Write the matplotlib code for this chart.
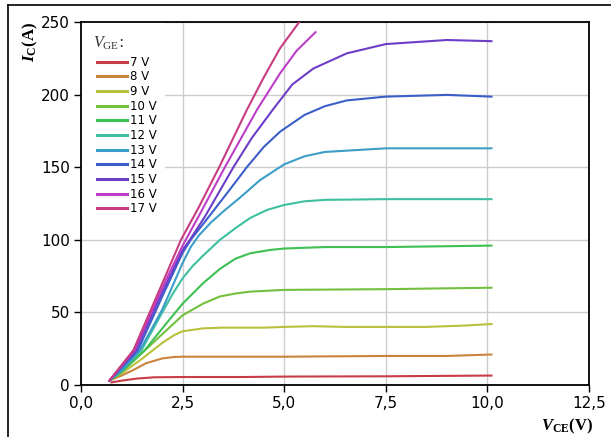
import matplotlib
matplotlib.use("Agg")
from matplotlib import pyplot as plt
from matplotlib.lines import Line2D
from matplotlib.patches import Rectangle
from matplotlib.ticker import FuncFormatter

plt.rcParams["mathtext.fontset"] = "custom"
plt.rcParams["mathtext.rm"] = "Liberation Serif"
plt.rcParams["mathtext.it"] = "Liberation Serif:italic"
plt.rcParams["mathtext.bf"] = "Liberation Serif:bold"
plt.rcParams["mathtext.bfit"] = "Liberation Serif:italic:bold"

# Output characteristics, I_C over V_CE for each gate voltage
labels = ["7 V", "8 V", "9 V", "10 V", "11 V", "12 V", "13 V", "14 V", "15 V", "16 V", "17 V"]
colors = ["#c83c46", "#c8843c", "#b8c03c", "#72c03e", "#3ec052", "#3ec0a0",
          "#3c9ec8", "#3c5ec8", "#6c3ec8", "#bc3ec8", "#c83c80"]

vce_7 = [0.75, 1.0, 1.4, 1.8, 2.5, 4.0, 5.0, 7.5, 10.1]
ic_7 = [1.8, 3.0, 4.5, 5.3, 5.5, 5.5, 5.8, 6.0, 6.5]

vce_8 = [0.7, 1.0, 1.3, 1.6, 2.0, 2.3, 2.5, 5.0, 7.5, 9.0, 10.1]
ic_8 = [3, 6.5, 10.5, 15, 18.3, 19.3, 19.5, 19.5, 20, 20, 21]

vce_9 = [0.7, 1.0, 1.5, 1.7, 2.0, 2.3, 2.5, 3.0, 3.5, 4.5, 5.0, 5.7, 6.5, 7.5, 8.5, 9.5, 10.1]
ic_9 = [3, 8, 18, 22.5, 29, 34.5, 37, 39, 39.5, 39.5, 40, 40.5, 40, 40, 40, 41, 42]

vce_10 = [0.7, 1.0, 1.5, 2.0, 2.5, 3.0, 3.42, 3.8, 4.16, 5.0, 7.5, 10.1]
ic_10 = [3, 9, 22, 35, 48, 56, 61, 63, 64.3, 65.5, 66, 67]

vce_11 = [0.7, 1.0, 1.57, 2.0, 2.5, 3.0, 3.42, 3.8, 4.16, 4.65, 5.0, 6.0, 7.5, 10.1]
ic_11 = [3, 9, 24, 39, 56, 70, 80, 87, 90.7, 93, 94, 95, 95, 96]

vce_12 = [0.7, 1.0, 1.49, 2.0, 2.25, 2.5, 2.75, 3.0, 3.42, 3.8, 4.16, 4.57, 5.0, 5.5, 6.0, 7.5, 10.1]
ic_12 = [3, 10, 24, 50, 62.5, 73.5, 82, 89, 100, 108, 115, 120.5, 124, 126.5, 127.5, 128, 128]

vce_13 = [0.7, 1.0, 1.45, 2.0, 2.5, 2.7, 2.9, 3.2, 3.5, 3.91, 4.4, 5.0, 5.5, 6.0, 7.5, 10.1]
ic_13 = [3, 10, 24, 52, 84, 95, 103, 112, 119.5, 129, 141, 152, 157.5, 160.5, 163, 163]

vce_14 = [0.7, 1.0, 1.4, 2.0, 2.5, 2.7, 3.26, 3.7, 4.08, 4.5, 4.9, 5.5, 6.0, 6.54, 7.5, 9.0, 10.1]
ic_14 = [3, 12, 24, 61, 91, 100, 120, 136, 150, 164, 174.5, 186, 192, 196, 198.6, 199.8, 198.6]

vce_15 = [0.7, 1.0, 1.35, 2.0, 2.5, 2.68, 3.05, 3.4, 3.75, 4.2, 4.73, 5.2, 5.72, 6.54, 7.5, 9.0, 10.1]
ic_15 = [3, 13, 24, 64, 93, 100, 116, 133, 150, 170, 190, 207, 218, 228.4, 234.8, 237.6, 236.8]

vce_16 = [0.7, 1.0, 1.32, 2.0, 2.5, 2.93, 3.54, 4.34, 4.9, 5.3, 5.77]
ic_16 = [3, 13.5, 24, 67, 96, 118, 150, 190, 214.7, 230, 243]

vce_17 = [0.7, 1.0, 1.29, 2.0, 2.46, 2.89, 3.4, 4.08, 4.5, 4.9, 5.45]
ic_17 = [3, 13.7, 24, 70, 100, 122, 150, 189.4, 212, 232, 253]

vce = [vce_7, vce_8, vce_9, vce_10, vce_11, vce_12, vce_13, vce_14, vce_15, vce_16, vce_17]
ic = [ic_7, ic_8, ic_9, ic_10, ic_11, ic_12, ic_13, ic_14, ic_15, ic_16, ic_17]

x_ticks = [0, 2.5, 5.0, 7.5, 10.0, 12.5]
y_ticks = [0, 50, 100, 150, 200, 250]

fig = plt.figure(figsize=(6.11, 4.37), dpi=100)
ax = fig.add_axes([81 / 611, 1 - 385 / 437, 508 / 611, 363 / 437])

for xs, ys, c in zip(vce, ic, colors):
    ax.plot(xs, ys, color=c, lw=1.5, solid_joinstyle="round", zorder=3)

ax.set_xlim(0, 12.5)
ax.set_ylim(0, 250)
ax.set_xticks(x_ticks)
ax.set_yticks(y_ticks)
ax.xaxis.set_major_formatter(FuncFormatter(lambda v, p: f"{v:.1f}".replace(".", ",")))
ax.grid(True, color="#cccccc", lw=1)
ax.set_axisbelow(True)
ax.tick_params(direction="out", length=5, width=1, labelsize=11, colors="black", pad=3)
for s in ax.spines.values():
    s.set_linewidth(1.3)
    s.set_color("black")

# white legend panel hides the grid behind it
ax.add_patch(Rectangle((0, 0.468), 0.165, 0.532, transform=ax.transAxes,
                       facecolor="white", edgecolor="none", zorder=1.5))
ax.text(0.0236, 0.942, r"$\mathit{V}_\mathrm{GE}$:", transform=ax.transAxes,
        ha="left", va="center", fontsize=11.5, color="#333333", zorder=4)

handles = [Line2D([], [], color=c, lw=2.2) for c in colors]
leg = ax.legend(handles, labels, loc="upper left", bbox_to_anchor=(0.0315, 0.907),
                fontsize=8.5, handlelength=2.55, handletextpad=0.25, labelspacing=0.14,
                borderaxespad=0, borderpad=0, frameon=False)

fig.text(30 / 611, 1 - 42 / 437, r"$\mathbfit{I}_\mathbf{C}$(A)", rotation=90,
         ha="center", va="center", fontsize=12, family="Liberation Serif", weight="bold")
fig.text(567 / 611, 1 - 426 / 437, r"$\mathbfit{V}_\mathbf{CE}$(V)",
         ha="center", va="center", fontsize=12, family="Liberation Serif", weight="bold")

# outer frame (only left and top edges fall inside the picture)
fig.add_artist(Line2D([8 / 611, 8 / 611], [0, 1 - 5 / 437], color="black", lw=1.2,
                      transform=fig.transFigure))
fig.add_artist(Line2D([8 / 611, 1], [1 - 5 / 437, 1 - 5 / 437], color="black", lw=1.2,
                      transform=fig.transFigure))

fig.savefig("out.png", dpi=100)
